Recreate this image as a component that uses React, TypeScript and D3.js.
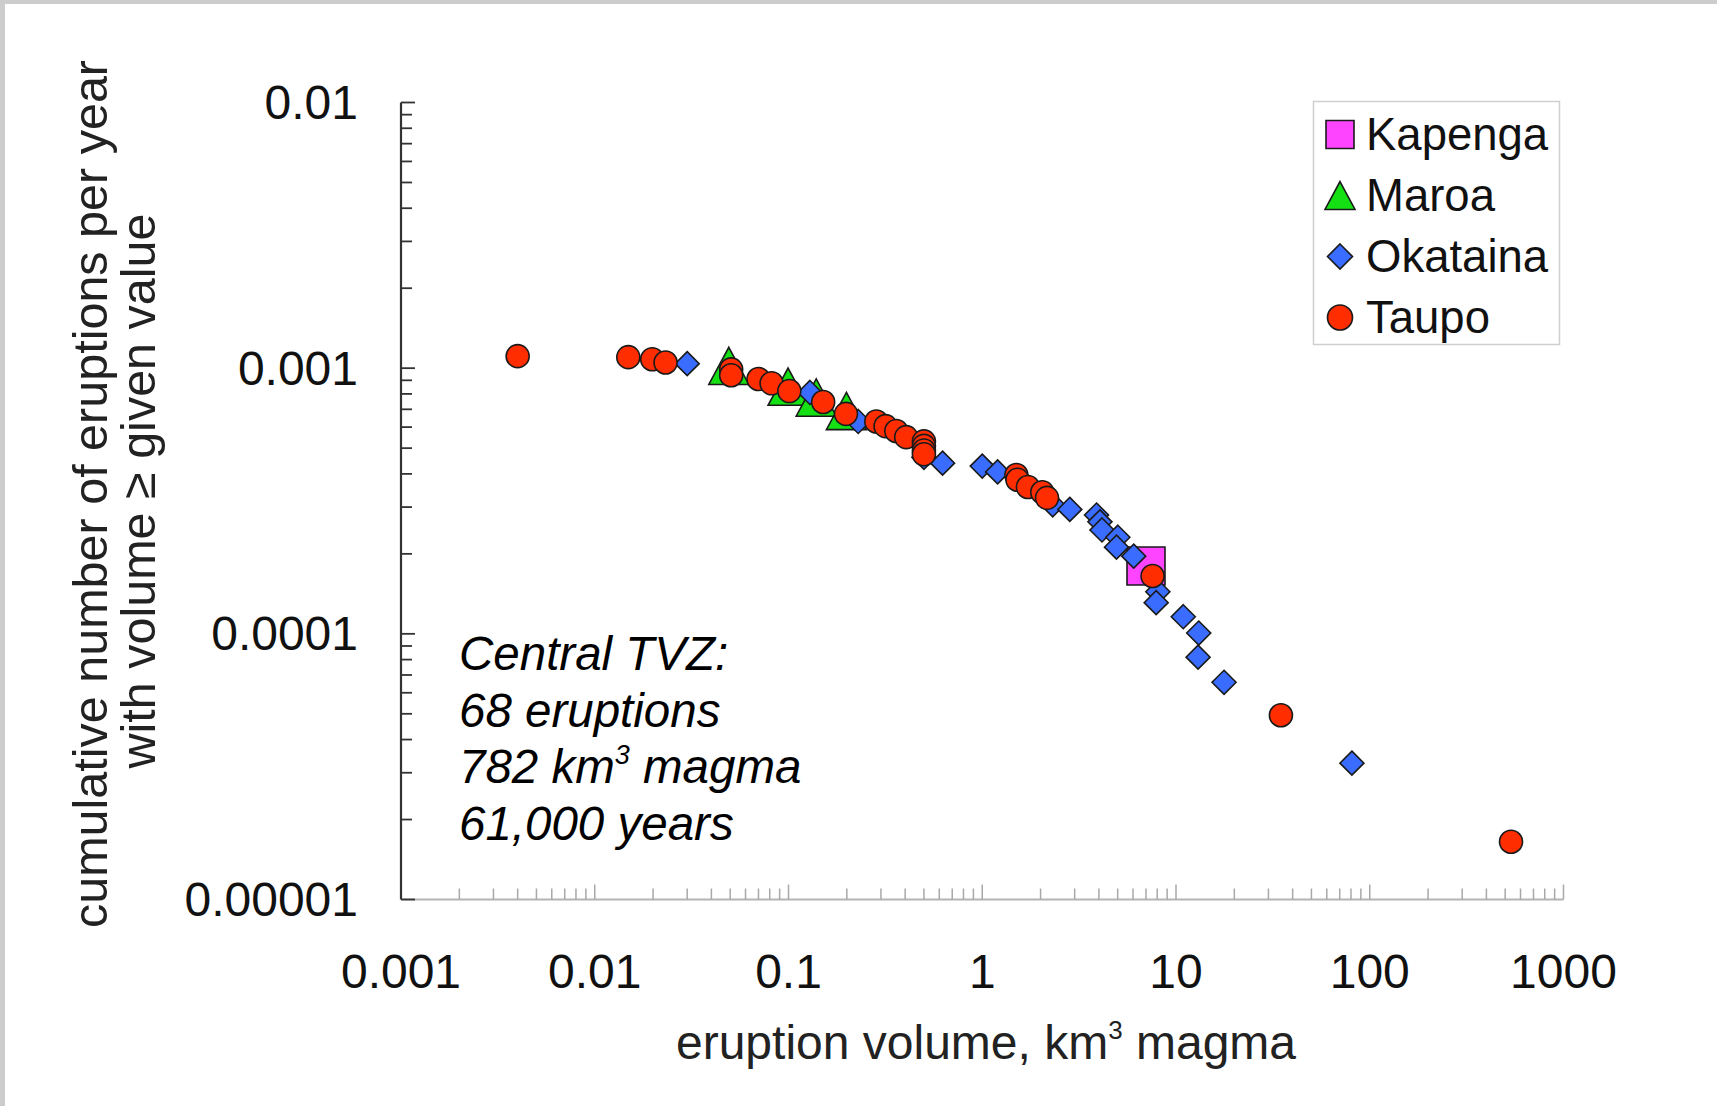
import React from "react";
import * as d3 from "d3";

// ---- data ----
const taupoVolume = [0.004, 0.0149, 0.0198, 0.0232, 0.0506, 0.0506, 0.07, 0.0818, 0.101, 0.151, 0.198, 0.284, 0.317, 0.36, 0.405, 0.5, 0.5, 0.5, 0.5, 1.5, 1.52, 1.72, 2.04, 2.16, 7.57, 34.8, 536];
const taupoRate = [0.00111, 0.0011, 0.00108, 0.00105, 0.00099, 0.00094, 0.00091, 0.000877, 0.00082, 0.000746, 0.000673, 0.00063, 0.000605, 0.00058, 0.00055, 0.00053, 0.00051, 0.00049, 0.000474, 0.000396, 0.00038, 0.000357, 0.000341, 0.000325, 0.000165, 0.0000494, 0.0000165];

const okatainaVolume = [0.03, 0.129, 0.229, 0.5, 0.624, 1.0, 1.2, 2.31, 2.83, 3.89, 4.05, 4.15, 5.01, 4.93, 6.05, 8.06, 7.9, 10.9, 13.1, 13.0, 17.7, 80.9];
const okatainaRate = [0.00104, 0.00081, 0.00063, 0.000462, 0.000439, 0.000428, 0.000407, 0.000306, 0.000294, 0.00028, 0.000264, 0.000246, 0.000231, 0.000212, 0.000196, 0.000144, 0.000131, 0.000116, 0.0001007, 0.0000817, 0.0000657, 0.0000326];

const maroaVolume = [0.0492, 0.0995, 0.139, 0.199];
const maroaRate = [0.00102, 0.000852, 0.000775, 0.00069];

const kapengaVolume = [7.0];
const kapengaRate = [0.00018];

const xTickLabels = ["0.001", "0.01", "0.1", "1", "10", "100", "1000"];
const yTickLabels = ["0.00001", "0.0001", "0.001", "0.01"];

const legendNames = ["Kapenga", "Maroa", "Okataina", "Taupo"];
const annotationLines = ["Central TVZ:", "68 eruptions", "782 km|3| magma", "61,000 years"];

const FONT = "'Liberation Sans', Arial, Helvetica, sans-serif";
const COLORS = { Kapenga: "#ff44ff", Maroa: "#14e014", Okataina: "#3a6dff", Taupo: "#ff2d00" };
const STROKE = "#1a1a1a";

function markerPath(kind: string, s: number): string {
  if (kind === "square") return `M${-s / 2},${-s / 2}h${s}v${s}h${-s}Z`;
  if (kind === "triangle") {
    const w = s, h = s * 0.93;
    return `M0,${-h / 2}L${w / 2},${h / 2}L${-w / 2},${h / 2}Z`;
  }
  if (kind === "diamond") {
    const r = s / 2;
    return `M0,${-r}L${r},0L0,${r}L${-r},0Z`;
  }
  return "";
}

function Marker({ kind, cx, cy, size, fill }: { kind: string; cx: number; cy: number; size: number; fill: string }) {
  if (kind === "circle") {
    return <circle cx={cx} cy={cy} r={size / 2} fill={fill} stroke={STROKE} strokeWidth={1.6} />;
  }
  return <path d={markerPath(kind, size)} transform={`translate(${cx},${cy})`} fill={fill} stroke={STROKE} strokeWidth={1.6} />;
}

export default function App() {
  const W = 1717, H = 1106;
  const x = d3.scaleLog().domain([1e-3, 1e3]).range([401, 1563.5]);
  const y = d3.scaleLog().domain([1e-5, 1e-2]).range([899.5, 102.5]);

  const isMajor = (t: number) => Math.abs(Math.log10(t) - Math.round(Math.log10(t))) < 1e-9;
  const xTicks = x.ticks();
  const yTicks = y.ticks();
  const xMajor = xTicks.filter(isMajor);
  const yMajor = yTicks.filter(isMajor);

  const series = [
    { name: "Kapenga", kind: "square", size: 38, vol: kapengaVolume, rate: kapengaRate },
    { name: "Maroa", kind: "triangle", size: 40, vol: maroaVolume, rate: maroaRate },
    { name: "Okataina", kind: "diamond", size: 24, vol: okatainaVolume, rate: okatainaRate },
    { name: "Taupo", kind: "circle", size: 23, vol: taupoVolume, rate: taupoRate },
  ];
  const legendMarker = [
    { kind: "square", size: 28 },
    { kind: "triangle", size: 30 },
    { kind: "diamond", size: 25 },
    { kind: "circle", size: 25 },
  ];

  return (
    <svg width={W} height={H} style={{ position: "absolute", left: 0, top: 0, background: "#fff" }} fontFamily={FONT}>
      <rect x={0} y={0} width={W} height={H} fill="#fff" />
      <rect x={0} y={0} width={W} height={4} fill="#cccccc" />
      <rect x={0} y={0} width={5} height={H} fill="#cccccc" />

      {/* x axis */}
      <line x1={x(1e-3)} x2={x(1e3)} y1={y(1e-5)} y2={y(1e-5)} stroke="#b4b4b4" strokeWidth={2} />
      {xTicks.filter((t) => t > 1e-3).map((t, i) => (
        <line key={"xt" + i} x1={x(t)} x2={x(t)} y1={y(1e-5)} y2={y(1e-5) - (isMajor(t) ? 15 : 11)} stroke="#a8a8a8" strokeWidth={1.5} />
      ))}
      {xMajor.map((t, i) => (
        <text key={"xl" + i} x={x(t)} y={988} textAnchor="middle" fontSize={48} fill="#111">{xTickLabels[i]}</text>
      ))}

      {/* y axis */}
      <line x1={x(1e-3)} x2={x(1e-3)} y1={y(1e-2)} y2={y(1e-5)} stroke="#333" strokeWidth={2.2} />
      {yTicks.map((t, i) => (
        <line key={"yt" + i} x1={x(1e-3)} x2={x(1e-3) + (isMajor(t) ? 14 : 11)} y1={y(t)} y2={y(t)} stroke="#333" strokeWidth={1.8} />
      ))}
      {yMajor.map((t, i) => (
        <text key={"yl" + i} x={358} y={y(t)} textAnchor="end" dominantBaseline="central" fontSize={48} fill="#111">{yTickLabels[i]}</text>
      ))}

      {/* axis titles */}
      <text x={986} y={1059} textAnchor="middle" fontSize={48} fill="#222">
        eruption volume, km<tspan fontSize={26} dy={-20}>3</tspan><tspan dy={20}> magma</tspan>
      </text>
      <text transform="translate(90,494) rotate(-90)" textAnchor="middle" dominantBaseline="central" fontSize={48.5} fill="#222">
        cumulative number of eruptions per year
      </text>
      <text transform="translate(138,491) rotate(-90)" textAnchor="middle" dominantBaseline="central" fontSize={48.5} fill="#222">
        with volume ≥ given value
      </text>

      {/* annotation */}
      {annotationLines.map((ln, i) => {
        const parts = ln.split("|");
        return (
          <text key={"an" + i} x={459} y={670 + i * 56.5} fontSize={47.5} fontStyle="italic" fill="#000">
            {parts.length === 1 ? ln : (
              <>
                {parts[0]}
                <tspan fontSize={27} dy={-19}>{parts[1]}</tspan>
                <tspan dy={19}>{parts[2]}</tspan>
              </>
            )}
          </text>
        );
      })}

      {/* data */}
      {series.map((s) => (
        <g key={s.name}>
          {s.vol.map((v, i) => (
            <Marker key={i} kind={s.kind} cx={x(v)} cy={y(s.rate[i])} size={s.size} fill={(COLORS as any)[s.name]} />
          ))}
        </g>
      ))}

      {/* legend */}
      <rect x={1313.5} y={101.5} width={246} height={243} fill="#fff" stroke="#cfcfcf" strokeWidth={1.5} />
      {legendNames.map((name, i) => (
        <g key={"lg" + name}>
          <Marker kind={legendMarker[i].kind} cx={1340} cy={134.5 + i * 61} size={legendMarker[i].size} fill={(COLORS as any)[name]} />
          <text x={1366} y={134.5 + i * 61} dominantBaseline="central" fontSize={45.5} fill="#111">{name}</text>
        </g>
      ))}
    </svg>
  );
}
